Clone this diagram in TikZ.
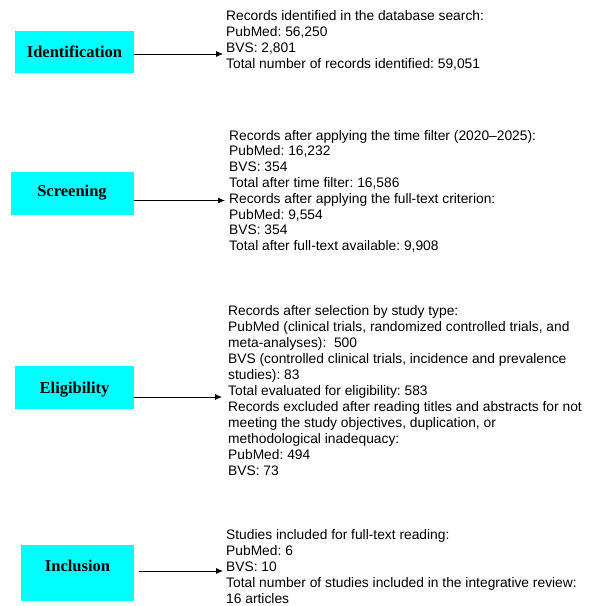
\documentclass[tikz,border=0pt]{standalone}
\usepackage{fontspec}
\setmainfont{Liberation Sans}
\newfontfamily\lblfont{Liberation Serif}
\usetikzlibrary{arrows.meta}
\frenchspacing
\tikzset{
  stagebox/.style={fill={rgb,255:red,0;green,255;blue,255}, inner sep=0pt,
    font=\lblfont\bfseries\fontsize{16.5}{18}\selectfont},
  infotext/.style={anchor=base west, inner sep=0pt, align=left,
    font=\fontsize{13.8}{16}\selectfont},
  arr/.style={draw=black, line width=0.8pt, -{Latex[length=7pt,width=6pt]}}
}
\begin{document}
\begin{tikzpicture}[x=1pt,y=-1pt]
\useasboundingbox (0,0) rectangle (599,606);
% stage boxes
\node[stagebox, minimum width=119pt, minimum height=42pt] (idbox) at (74.5,52) {Identification};
\node[stagebox, minimum width=123pt, minimum height=43pt] (scbox) at (72,193) {Screening};
\node[stagebox, minimum width=119pt, minimum height=43pt, text depth=0pt] (elbox) at (74.5,387.5) {Eligibility};
\node[stagebox, minimum width=113pt, minimum height=56pt, text height=11pt, text depth=15pt] (inbox) at (77.5,573) {Inclusion};
% text blocks
\node[infotext] (idtext) at (226,20) {\vtop{\baselineskip=16.2pt
\hbox{Records identified in the database search:}
\hbox{PubMed: 56,250}
\hbox{BVS: 2,801}
\hbox{Total number of records identified: 59,051}}};
\node[infotext] (sctext) at (229,140) {\vtop{\baselineskip=15.8pt
\hbox{Records after applying the time filter (2020–2025):}
\hbox{PubMed: 16,232}
\hbox{BVS: 354}
\hbox{Total after time filter: 16,586}
\hbox{Records after applying the full-text criterion:}
\hbox{PubMed: 9,554}
\hbox{BVS: 354}
\hbox{Total after full-text available: 9,908}}};
\node[infotext] (eltext) at (228,315) {\vtop{\baselineskip=16pt
\hbox{Records after selection by study type:}
\hbox{PubMed (clinical trials, randomized controlled trials, and}
\hbox{meta-analyses):\ \ 500}
\hbox{BVS (controlled clinical trials, incidence and prevalence}
\hbox{studies): 83}
\hbox{Total evaluated for eligibility: 583}
\hbox{Records excluded after reading titles and abstracts for not}
\hbox{meeting the study objectives, duplication, or}
\hbox{methodological inadequacy:}
\hbox{PubMed: 494}
\hbox{BVS: 73}}};
\node[infotext] (intext) at (226,539) {\vtop{\baselineskip=16pt
\hbox{Studies included for full-text reading:}
\hbox{PubMed: 6}
\hbox{BVS: 10}
\hbox{Total number of studies included in the integrative review:}
\hbox{16 articles}}};
% arrow tips
\coordinate (idtip) at (223,54);
\coordinate (sctip) at (225,200.5);
\coordinate (eltip) at (222,397);
\coordinate (intip) at (223,571);
\draw[arr] (idbox.east |- idtip) -- (idtip);
\draw[arr] (scbox.east |- sctip) -- (sctip);
\draw[arr] (elbox.east |- eltip) -- (eltip);
\draw[arr] ([xshift=5pt]inbox.east |- intip) -- (intip);
\end{tikzpicture}
\end{document}
